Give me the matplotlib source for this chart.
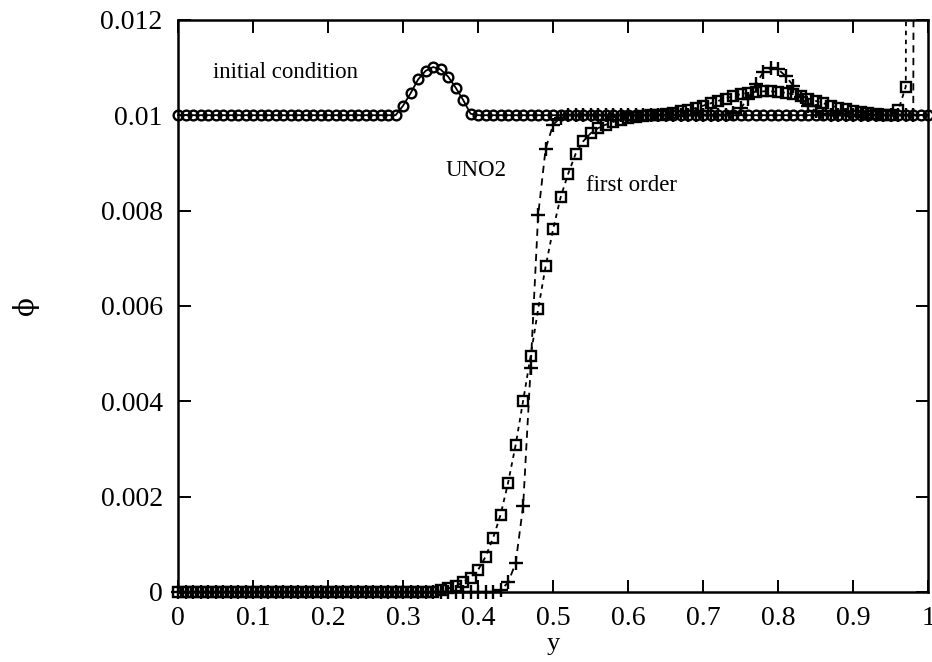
import matplotlib
matplotlib.use("Agg")
import matplotlib.pyplot as plt
from matplotlib.patches import Rectangle
import numpy as np

plt.rcParams['font.family'] = ['Liberation Serif', 'DejaVu Serif']

# grid along y (0.01 spacing)
y_grid = np.round(np.arange(101) * 0.01, 2)

# initial condition: flat 0.01 with a bump near y=0.34
phi_init = ([0.01] * 30
            + [0.01020, 0.01046, 0.01075, 0.01093, 0.01101, 0.01096,
               0.01081, 0.01058, 0.01032, 0.01003]
            + [0.01] * 61)

# first order scheme
phi_first = ([0.0] * 35
             + [0.00003, 0.00007]
             + [0.00012, 0.0002, 0.0003, 0.00046, 0.00074, 0.00113, 0.00162,
                0.00229, 0.00308, 0.00401, 0.00495, 0.00593, 0.00683, 0.00761,
                0.00828, 0.00877, 0.00919, 0.00945, 0.00962, 0.00973, 0.0098,
                0.00986, 0.0099, 0.00994, 0.00997, 0.00999, 0.01000, 0.01001,
                0.01003, 0.01005, 0.01008, 0.01011, 0.01015, 0.0102, 0.01025,
                0.0103, 0.01035, 0.0104, 0.01044, 0.01047, 0.01049, 0.0105,
                0.0105, 0.01049, 0.01047, 0.01044, 0.0104, 0.01035, 0.0103,
                0.01025, 0.0102, 0.01016, 0.01012, 0.01009, 0.01006, 0.01004,
                0.01002, 0.01001, 0.01, 0.0101, 0.0106]
             + [0.06, 0.08, 0.09])

# UNO2 scheme
phi_uno2 = ([0.0] * 43
            + [0.00003, 0.0002, 0.0006, 0.0018, 0.0047, 0.0079, 0.0093,
               0.0098, 0.00995]
            + [0.01] * 22
            + [0.01005, 0.01015, 0.01035, 0.01065, 0.0109, 0.01099, 0.01096,
               0.01082, 0.01062, 0.01038, 0.0102, 0.01008, 0.01002]
            + [0.01] * 12
            + [0.08, 0.09])

y_ticks = [0, 0.002, 0.004, 0.006, 0.008, 0.01, 0.012]
y_ticklabels = ['0', '0.002', '0.004', '0.006', '0.008', '0.01', '0.012']
x_ticks = [0, 0.1, 0.2, 0.3, 0.4, 0.5, 0.6, 0.7, 0.8, 0.9, 1]
x_ticklabels = ['0', '0.1', '0.2', '0.3', '0.4', '0.5', '0.6', '0.7', '0.8', '0.9', '1']

fig = plt.figure(figsize=(9.32, 6.62), dpi=100)
ax = fig.add_axes([0.191, 0.106, 0.805, 0.864])

lines = []
lines += ax.plot(y_grid, phi_init, '-', color='black', lw=1.3,
                 marker='o', ms=7, mfc='none', mec='black', mew=1.7)
lines += ax.plot(y_grid, phi_first, color='black', lw=1.3, dashes=(2.5, 2.5),
                 marker='s', ms=7, mfc='none', mec='black', mew=1.7)
lines += ax.plot(y_grid, phi_uno2, color='black', lw=1.3, dashes=(4, 3),
                 marker='+', ms=10, mec='black', mew=1.7)

# let markers spill over the bottom/side frame, but cut at the top
clip = Rectangle((-0.02, -0.05), 1.04, 1.05, transform=ax.transAxes)
for ln in lines:
    ln.set_clip_path(clip)

ax.set_xlim(0, 1)
ax.set_ylim(0, 0.012)
ax.set_xticks(x_ticks)
ax.set_xticklabels(x_ticklabels)
ax.set_yticks(y_ticks)
ax.set_yticklabels(y_ticklabels)
ax.tick_params(direction='in', length=9, width=1.4, top=True, right=True,
               labelsize=20)
ax.tick_params(axis='x', pad=10)
ax.tick_params(axis='y', pad=11)
for s in ax.spines.values():
    s.set_linewidth(1.8)

ax.set_xlabel('y', fontsize=19, labelpad=2)
ax.set_ylabel('ϕ', fontsize=20, labelpad=44, family=['DejaVu Serif'])

ax.text(0.047, 0.0109, 'initial condition', fontsize=16.5, va='center')
ax.text(0.357, 0.00885, 'UNO2', fontsize=16.5, va='center')
ax.text(0.544, 0.00852, 'first order', fontsize=16.5, va='center')

fig.savefig('out.png', dpi=100)
